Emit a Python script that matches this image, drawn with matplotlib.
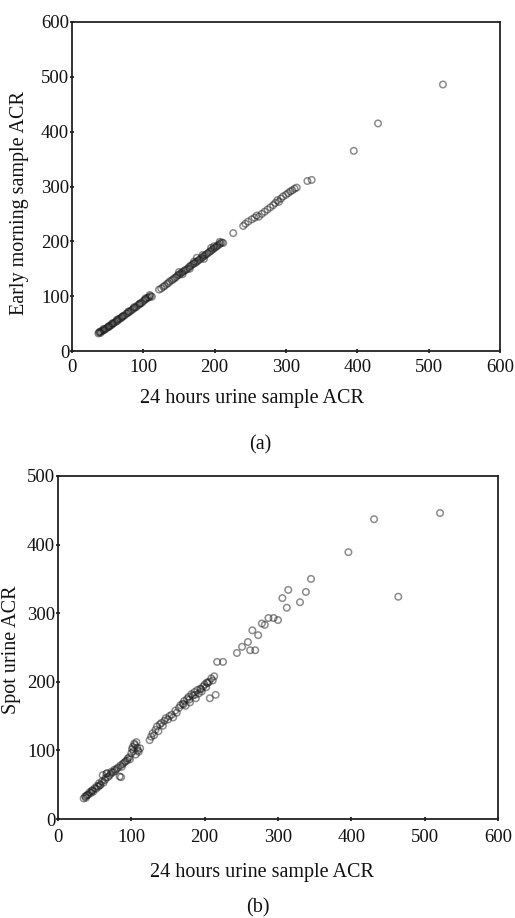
import matplotlib
matplotlib.use("Agg")
import matplotlib.pyplot as plt

plt.rcParams['font.family'] = ['Liberation Serif', 'DejaVu Serif']

# ---- Panel (a): 24h urine ACR vs early morning sample ACR ----
a_x = [37, 38, 40, 41, 43, 45, 46, 48, 50, 52, 53, 55, 57, 58, 60, 62, 64, 65, 67, 69,
       70, 72, 74, 76, 78, 80, 82, 84, 86, 88, 90, 92, 94, 96, 98, 100, 102, 104, 106, 108,
       110, 112, 39, 44, 51, 56, 63, 71, 79, 87, 95, 103, 109,
       122, 125, 128, 130, 133, 135, 137, 140, 142, 144, 146, 148, 150, 152, 154, 156, 158, 160,
       162, 164, 166, 168, 170, 172, 174, 176, 178, 180, 182, 184, 186, 188, 190, 192, 194, 196,
       198, 200, 202, 204, 206, 208, 210, 212, 150, 155, 165, 175, 185, 195, 171, 183, 199, 207,
       226, 240, 243, 247, 252, 256, 259, 262, 266, 270, 274, 278, 282, 285, 288, 290, 293, 296,
       300, 303, 306, 309, 312, 315, 330, 336, 395, 429, 520]
a_y = [32, 34, 33, 36, 37, 38, 40, 41, 43, 44, 46, 47, 49, 51, 52, 54, 55, 58, 59, 60,
       62, 64, 65, 68, 69, 71, 73, 75, 77, 79, 80, 83, 85, 87, 88, 91, 93, 95, 97, 98,
       100, 99, 35, 40, 45, 50, 57, 63, 72, 80, 86, 96, 102,
       112, 114, 117, 119, 122, 124, 127, 129, 131, 133, 135, 138, 139, 141, 143, 145, 147, 148,
       150, 153, 155, 157, 159, 160, 162, 164, 166, 168, 170, 172, 174, 176, 178, 180, 182, 184,
       186, 188, 190, 192, 194, 196, 198, 197, 144, 140, 150, 170, 168, 188, 163, 175, 191, 199,
       215, 228, 232, 236, 240, 243, 247, 245, 250, 254, 258, 262, 266, 270, 275, 272, 278, 282,
       285, 288, 291, 293, 296, 298, 310, 312, 365, 415, 486]

# ---- Panel (b): 24h urine ACR vs spot urine ACR ----
b_x = [35, 37, 38, 40, 42, 43, 45, 47, 48, 50, 52, 53, 55, 56, 58, 60, 61, 62, 64, 65,
       66, 68, 70, 72, 73, 75, 77, 78, 80, 82, 84, 85, 87, 88, 90, 92, 94, 95, 97, 98,
       100, 101, 102, 103, 104, 105, 106, 107, 108, 109, 110, 112, 39, 46, 57, 67, 86,
       125, 127, 129, 131, 133, 135, 137, 139, 141, 143, 145, 147, 150, 152, 155, 157, 160, 162,
       165, 167, 170, 172, 174, 176, 178, 180, 182, 184, 186, 188, 190, 192, 194, 196, 198, 200,
       202, 204, 206, 207, 209, 211, 213, 215, 171, 179, 187, 195, 203,
       225, 217, 244, 251, 259, 262, 269, 265, 273, 278, 287, 294, 282, 300, 306, 312, 314,
       330, 338, 345, 396, 431, 521, 464]
b_y = [30, 33, 31, 35, 36, 39, 38, 42, 40, 45, 44, 48, 47, 52, 50, 55, 64, 53, 57, 60,
       66, 61, 63, 66, 69, 68, 72, 70, 73, 75, 62, 78, 76, 80, 82, 84, 85, 88, 90, 87,
       96, 102, 105, 99, 110, 108, 94, 112, 104, 100, 98, 103, 34, 41, 49, 67, 61,
       115, 120, 125, 122, 130, 135, 128, 138, 140, 136, 143, 147, 145, 150, 152, 148, 158, 155,
       162, 166, 168, 172, 165, 175, 178, 170, 182, 180, 185, 176, 188, 183, 190, 186, 193, 196,
       192, 198, 200, 176, 205, 202, 208, 181, 167, 174, 181, 189, 199,
       229, 229, 242, 251, 258, 246, 246, 275, 268, 285, 293, 293, 283, 290, 322, 308, 334,
       316, 331, 350, 389, 437, 446, 324]

a_xticks = [0, 100, 200, 300, 400, 500, 600]
a_yticks = [0, 100, 200, 300, 400, 500, 600]
b_xticks = [0, 100, 200, 300, 400, 500, 600]
b_yticks = [0, 100, 200, 300, 400, 500]

W, H = 515, 918
fig = plt.figure(figsize=(W / 100, H / 100), dpi=100)
fig.patch.set_facecolor('white')

def px_axes(l, r, t, b):
    return fig.add_axes([l / W, 1 - b / H, (r - l) / W, (b - t) / H])

ax1 = px_axes(72, 500, 22, 351)
ax2 = px_axes(58, 498, 476, 819)

tick_fs = 13.5
lab_fs = 14.5

def style(ax, xt, yt, xpad):
    ax.set_xlim(0, xt[-1])
    ax.set_ylim(0, yt[-1])
    ax.set_xticks(xt)
    ax.set_yticks(yt)
    ax.set_xticklabels([str(v) for v in xt])
    ax.set_yticklabels([str(v) for v in yt])
    for s in ax.spines.values():
        s.set_linewidth(1.3)
        s.set_color('#222222')
    ax.tick_params(direction='inout', length=3, width=1.2, labelsize=tick_fs,
                   colors='#111111')
    ax.tick_params(axis='x', pad=xpad)
    ax.tick_params(axis='y', pad=0.5)

scatter_kw = dict(s=22, facecolors='none', edgecolors='#1a1a1a', linewidths=1.1,
                  alpha=0.5, clip_on=False)

ax1.scatter(a_x, a_y, **scatter_kw)
style(ax1, a_xticks, a_yticks, 4)
ax2.scatter(b_x, b_y, **scatter_kw)
style(ax2, b_xticks, b_yticks, 6)

fig.text(252 / W, 1 - 398 / H, '24 hours urine sample ACR', ha='center', va='center',
         fontsize=lab_fs, color='#111111')
fig.text(20 / W, 1 - 203 / H, 'Early morning sample ACR', ha='center', va='center',
         rotation=90, fontsize=lab_fs, color='#111111')
fig.text(260 / W, 1 - 445 / H, '(a)', ha='center', va='center', fontsize=lab_fs,
         color='#111111')

fig.text(262 / W, 1 - 872 / H, '24 hours urine sample ACR', ha='center', va='center',
         fontsize=lab_fs, color='#111111')
fig.text(12 / W, 1 - 650 / H, 'Spot urine ACR', ha='center', va='center',
         rotation=90, fontsize=lab_fs, color='#111111')
fig.text(258 / W, 1 - 908 / H, '(b)', ha='center', va='center', fontsize=lab_fs,
         color='#111111')

fig.savefig('out.png', dpi=100, facecolor='white')
